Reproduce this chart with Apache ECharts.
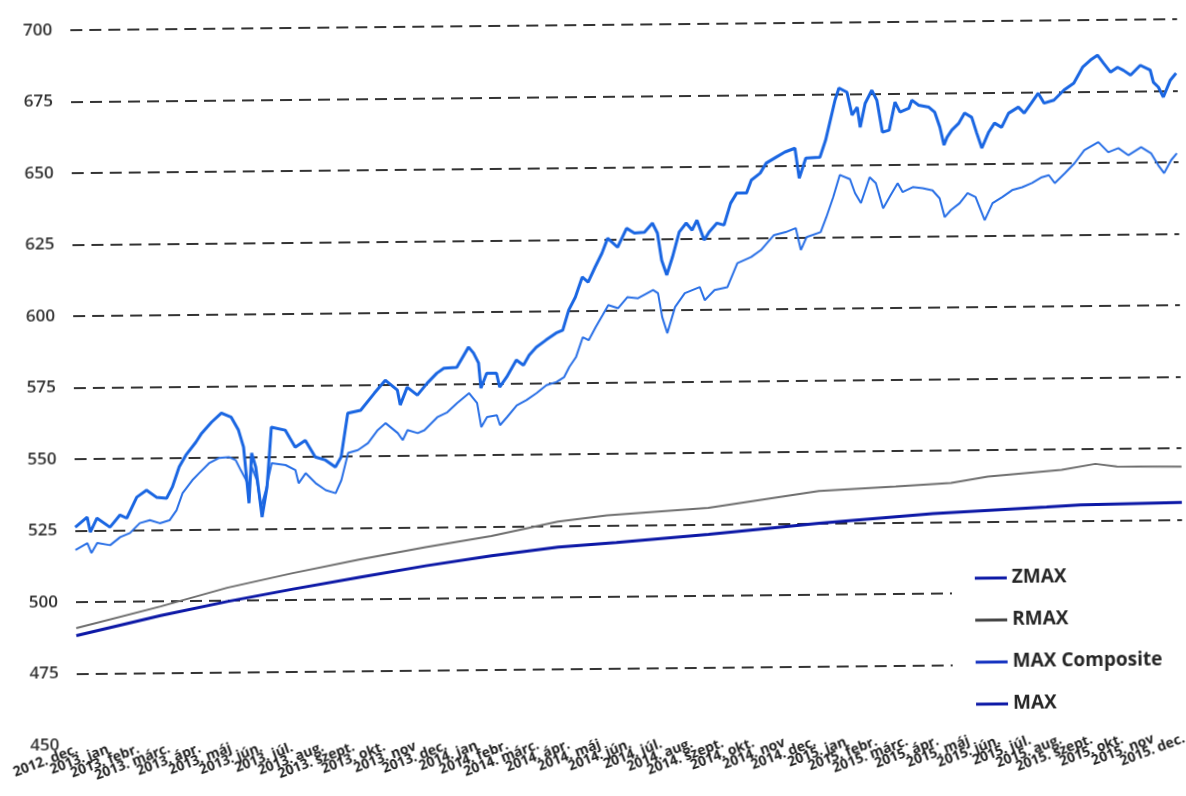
<!DOCTYPE html>
<html>
<head>
<meta charset="utf-8">
<script src="https://cdn.jsdelivr.net/npm/echarts@6/dist/echarts.min.js"></script>
<style>
  html, body { margin: 0; padding: 0; background: #fff; overflow: hidden; }
  /* the scanned original is tilted a little */
  #main { width: 1186px; height: 796px; transform: rotate(-0.57deg); }
</style>
</head>
<body>
<div id="main"></div>
<script>
// x = months counted from 2012. dec.
var monthLabels = [
  '2012. dec.',
  '2013. jan', '2013. febr.', '2013. márc.', '2013. ápr.', '2013. máj', '2013. jún.',
  '2013. júl.', '2013. aug.', '2013. szept.', '2013. okt.', '2013. nov', '2013. dec.',
  '2014. jan', '2014. febr.', '2014. márc.', '2014. ápr.', '2014. máj', '2014. jún.',
  '2014. júl.', '2014. aug.', '2014. szept.', '2014. okt.', '2014. nov', '2014. dec.',
  '2015. jan', '2015. febr.', '2015. márc.', '2015. ápr.', '2015. máj', '2015. jún.',
  '2015. júl.', '2015. aug.', '2015. szept.', '2015. okt.', '2015. nov', '2015. dec.'
];

var yTicks = [450, 475, 500, 525, 550, 575, 600, 625, 650, 675, 700];

// [month, value]
var maxData = [
  [0, 526.2], [0.39, 529.7], [0.49, 524.4], [0.71, 529.3], [1.13, 526.1], [1.46, 530.3],
  [1.68, 529.2], [2.01, 536.5], [2.33, 538.9], [2.65, 536.4], [2.98, 536.0], [3.17, 539.9],
  [3.40, 546.9], [3.62, 551.0], [3.95, 555.5], [4.14, 558.6], [4.47, 562.5], [4.79, 565.6],
  [5.11, 564.1], [5.34, 559.6], [5.50, 553.6], [5.66, 534.0], [5.76, 551.5], [5.89, 546.6],
  [5.99, 537.5], [6.08, 529.1], [6.25, 539.5], [6.41, 560.5], [6.86, 559.4], [7.18, 553.4],
  [7.51, 555.8], [7.83, 549.9], [8.16, 548.8], [8.48, 546.3], [8.67, 549.8], [8.90, 565.1],
  [9.32, 566.1], [9.77, 572.0], [10.13, 576.5], [10.52, 573.0], [10.61, 567.8], [10.84, 574.0],
  [11.17, 571.2], [11.49, 575.3], [11.81, 578.8], [12.04, 580.5], [12.46, 580.8], [12.85, 587.8],
  [13.01, 585.7], [13.17, 582.2], [13.24, 573.4], [13.43, 578.6], [13.75, 578.6], [13.85, 573.7],
  [14.08, 577.2], [14.40, 583.1], [14.63, 581.3], [14.82, 584.8], [15.05, 587.5], [15.37, 590.0],
  [15.70, 592.4], [15.92, 593.4], [16.12, 600.4], [16.34, 604.9], [16.57, 611.9], [16.76, 610.1],
  [16.99, 615.3], [17.22, 620.2], [17.41, 625.4], [17.73, 622.2], [18.03, 628.8], [18.28, 627.1],
  [18.61, 627.4], [18.87, 630.5], [19.03, 627.0], [19.16, 617.5], [19.32, 612.3], [19.51, 618.5],
  [19.74, 627.3], [19.97, 630.4], [20.16, 627.9], [20.32, 631.4], [20.55, 624.4], [20.71, 627.2],
  [20.97, 630.3], [21.20, 629.6], [21.42, 637.2], [21.62, 640.7], [21.94, 640.7], [22.10, 645.2],
  [22.39, 647.6], [22.59, 651.1], [22.91, 653.1], [23.20, 654.9], [23.53, 656.2], [23.66, 645.7],
  [23.88, 652.7], [24.34, 653.0], [24.53, 658.9], [24.69, 665.9], [24.85, 672.9], [24.98, 677.1],
  [25.24, 675.6], [25.40, 667.6], [25.57, 670.3], [25.66, 663.3], [25.83, 671.7], [26.05, 676.2],
  [26.21, 672.7], [26.38, 661.5], [26.60, 662.2], [26.80, 672.0], [26.96, 668.5], [27.25, 669.8],
  [27.35, 672.6], [27.57, 670.8], [27.90, 670.1], [28.09, 668.3], [28.25, 663.1], [28.38, 656.8],
  [28.48, 659.5], [28.64, 662.0], [28.87, 664.4], [29.06, 667.9], [29.29, 666.4], [29.45, 660.8],
  [29.61, 655.6], [29.84, 661.2], [30.03, 664.3], [30.26, 662.8], [30.49, 667.7], [30.81, 669.8],
  [31.00, 667.7], [31.23, 671.1], [31.46, 674.6], [31.65, 671.1], [31.97, 672.1], [32.30, 675.6],
  [32.62, 678.0], [32.91, 683.5], [33.17, 686.0], [33.40, 687.7], [33.59, 684.9], [33.82, 681.7],
  [34.05, 683.4], [34.24, 682.3], [34.47, 680.6], [34.79, 684.0], [35.11, 682.3], [35.21, 678.0],
  [35.37, 676.3], [35.53, 672.8], [35.76, 678.7], [35.95, 681.1]
];

var compositeData = [
  [0, 518.2], [0.39, 520.6], [0.52, 517.1], [0.71, 520.6], [1.13, 519.8], [1.46, 522.6],
  [1.78, 524.0], [2.10, 527.4], [2.43, 528.4], [2.75, 527.3], [3.07, 528.3], [3.30, 531.8],
  [3.50, 537.7], [3.82, 542.2], [4.05, 544.7], [4.37, 548.1], [4.69, 549.9], [5.02, 550.2],
  [5.24, 549.1], [5.40, 545.6], [5.57, 542.1], [5.66, 539.6], [5.76, 546.6], [5.92, 542.0],
  [6.05, 532.6], [6.21, 538.5], [6.41, 547.9], [6.86, 547.2], [7.18, 545.4], [7.28, 540.8],
  [7.51, 544.3], [7.83, 540.8], [8.16, 538.3], [8.48, 537.2], [8.67, 541.7], [8.90, 551.2],
  [9.22, 552.2], [9.55, 554.6], [9.87, 559.1], [10.13, 561.5], [10.52, 558.0], [10.68, 555.5],
  [10.84, 559.0], [11.17, 557.9], [11.39, 558.9], [11.81, 563.4], [12.14, 565.1], [12.46, 568.3],
  [12.85, 571.7], [13.11, 568.2], [13.24, 559.8], [13.43, 563.3], [13.75, 563.9], [13.85, 560.4],
  [14.08, 563.2], [14.40, 567.3], [14.72, 569.1], [15.05, 571.5], [15.37, 574.2], [15.70, 575.3],
  [15.95, 577.0], [16.12, 580.5], [16.34, 583.9], [16.57, 590.9], [16.76, 589.8], [16.99, 594.3],
  [17.22, 598.5], [17.41, 602.0], [17.73, 600.9], [18.03, 604.7], [18.38, 604.3], [18.87, 607.1],
  [19.03, 606.0], [19.16, 597.6], [19.32, 592.0], [19.58, 601.1], [19.90, 605.9], [20.39, 608.0],
  [20.55, 603.4], [20.87, 606.9], [21.29, 607.9], [21.62, 616.2], [22.07, 618.3], [22.39, 620.7],
  [22.82, 625.9], [23.20, 626.9], [23.53, 628.3], [23.69, 620.6], [23.88, 625.1], [24.34, 626.8],
  [24.53, 632.0], [24.76, 639.0], [24.98, 646.7], [25.31, 645.2], [25.47, 640.3], [25.66, 636.8],
  [25.95, 645.8], [26.15, 643.7], [26.38, 634.9], [26.63, 639.5], [26.86, 643.6], [27.02, 640.5],
  [27.35, 642.2], [27.67, 641.8], [27.99, 641.0], [28.22, 638.2], [28.38, 631.6], [28.58, 634.0],
  [28.87, 636.4], [29.13, 639.9], [29.39, 638.5], [29.68, 630.4], [29.94, 636.3], [30.26, 638.4],
  [30.58, 640.8], [30.91, 641.8], [31.23, 643.2], [31.55, 645.2], [31.78, 645.9], [31.97, 643.1],
  [32.30, 646.5], [32.62, 650.0], [32.94, 654.5], [33.40, 657.3], [33.72, 653.7], [34.05, 655.1],
  [34.37, 652.6], [34.79, 655.4], [35.11, 653.2], [35.34, 649.0], [35.53, 646.2], [35.76, 650.7],
  [35.95, 653.1]
];

var rmaxData = [
  [0, 490.9], [2.75, 498.2], [4.92, 504.5], [7.06, 509.4], [9.22, 513.9], [11.39, 518.0],
  [13.53, 521.7], [15.7, 526.5], [17.3, 528.5], [20.6, 530.8], [24.2, 536.3], [26.7, 537.6],
  [28.5, 538.6], [29.7, 540.7], [32.1, 542.8], [33.2, 544.8], [33.9, 543.8], [36, 543.5]
];

var zmaxData = [
  [0, 488.3], [2.75, 495.0], [4.92, 499.7], [7.06, 503.8], [9.22, 507.7], [11.39, 511.5],
  [13.53, 514.8], [15.7, 517.6], [17.6, 519.0], [20.6, 521.5], [24.2, 525.0], [27.9, 528.0],
  [31.6, 529.9], [32.7, 530.5], [36, 531.0]
];

var myChart = echarts.init(document.getElementById('main'));

var gridColors = yTicks.map(function (v, i) { return i === 0 ? 'rgba(0,0,0,0)' : '#333'; });

var option = {
  animation: false,
  backgroundColor: '#fff',
  grid: { left: 74, right: 0, top: 25, bottom: 56 },
  legend: {
    orient: 'vertical',
    left: 950,
    top: 558,
    padding: [14, 40, 14, 23],
    backgroundColor: '#fff',
    icon: 'rect',
    itemWidth: 32,
    itemHeight: 3,
    itemGap: 22,
    textStyle: {
      fontFamily: 'Open Sans',
      fontWeight: 'bold',
      fontSize: 19,
      lineHeight: 20,
      color: '#262626'
    },
    data: [
      { name: 'ZMAX', itemStyle: { color: '#0c18a6' } },
      { name: 'RMAX', itemStyle: { color: '#444' } },
      { name: 'MAX Composite', itemStyle: { color: '#1432c0' } },
      { name: 'MAX', itemStyle: { color: '#0c18a6' } }
    ]
  },
  xAxis: [
    {
      // month labels
      type: 'category',
      data: monthLabels,
      boundaryGap: false,
      axisLine: { show: false },
      axisTick: { show: false },
      splitLine: { show: false },
      axisLabel: {
        interval: 0,
        rotate: 20,
        margin: 4,
        fontFamily: 'Open Sans',
        fontWeight: 'bold',
        fontSize: 14,
        color: '#222'
      }
    },
    {
      // daily positions for the lines
      type: 'value',
      min: 0,
      max: 36,
      show: false
    }
  ],
  yAxis: {
    type: 'value',
    min: 450,
    max: 700,
    interval: 25,
    axisLine: { show: false },
    axisTick: { show: false },
    axisLabel: {
      margin: 18,
      fontFamily: 'Open Sans',
      fontWeight: 600,
      fontSize: 17,
      color: '#333'
    },
    splitLine: {
      lineStyle: { type: [12, 7], width: 2, color: gridColors }
    }
  },
  series: [
    {
      name: 'ZMAX', type: 'line', symbol: 'none', xAxisIndex: 1,
      lineStyle: { width: 3, color: '#0c18a6' }, itemStyle: { color: '#0c18a6' },
      data: zmaxData
    },
    {
      name: 'RMAX', type: 'line', symbol: 'none', xAxisIndex: 1,
      lineStyle: { width: 2, color: '#6f6f6f' }, itemStyle: { color: '#6f6f6f' },
      data: rmaxData
    },
    {
      name: 'MAX Composite', type: 'line', symbol: 'none', xAxisIndex: 1,
      lineStyle: { width: 2, color: '#2a70e6' }, itemStyle: { color: '#2a70e6' },
      data: compositeData
    },
    {
      name: 'MAX', type: 'line', symbol: 'none', xAxisIndex: 1,
      lineStyle: { width: 3, color: '#1a66e2' }, itemStyle: { color: '#1a66e2' },
      data: maxData
    }
  ]
};

myChart.setOption(option);
</script>
</body>
</html>
